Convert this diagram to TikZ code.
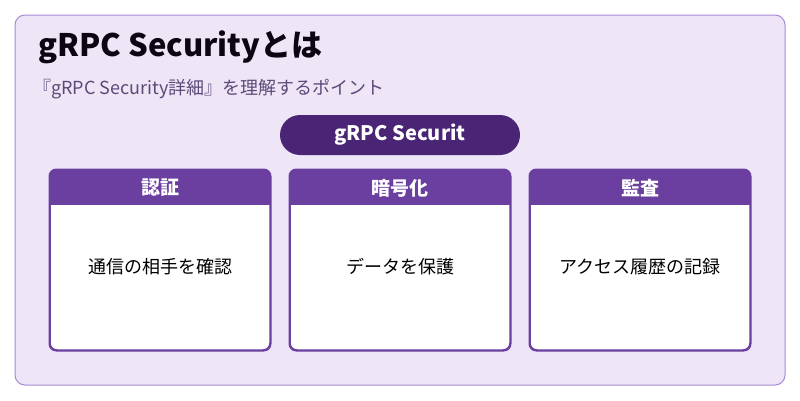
\documentclass[tikz,border=0pt]{standalone}
\usepackage{fontspec}
\setmainfont{Noto Sans CJK JP}
\usetikzlibrary{positioning}
\definecolor{bgpurple}{HTML}{EEE6F6}
\definecolor{edgepurple}{HTML}{A58AD6}
\definecolor{darkpurple}{HTML}{4B2575}
\definecolor{midpurple}{HTML}{6B3FA0}
\definecolor{subgray}{HTML}{5A4A78}
\tikzset{%
    framesty/.style={
        rounded corners=10pt,
        draw=edgepurple,
        fill=bgpurple,
        line width=1pt,
    },
    pillsty/.style={
        rounded corners=20pt,
        fill=darkpurple,
        text=white,
        font=\bfseries\fontsize{20}{24}\selectfont,
        minimum width=240pt,
        minimum height=40pt,
    },
    cardsty/.style={
        rounded corners=7pt,
        draw=midpurple,
        fill=white,
        line width=1.5pt,
        minimum width=220pt,
        minimum height=180pt,
    },
    headsty/.style={
        font=\bfseries\fontsize{19}{23}\selectfont,
        text=white,
    },
    bodysty/.style={
        font=\fontsize{18}{21}\selectfont,
        text=black,
    },
}
\begin{document}
\begin{tikzpicture}[x=1pt,y=-1pt]

\useasboundingbox (0,0) rectangle (800,400);
\fill[white] (0,0) rectangle (800,400);

% frame
\draw[framesty] (15,15) rectangle (785,385);

% title and subtitle
\node (title) [anchor=west,inner sep=0pt,font=\bfseries\fontsize{31}{36}\selectfont,text=black!85!darkpurple] at (38,47) {gRPC Securityとは};
\node (sub) [anchor=west,inner sep=0pt,font=\fontsize{18}{21}\selectfont,text=subgray] at (33,89) {『gRPC Security詳細』を理解するポイント};

% pill
\node (pill) [pillsty] at (400,135) {gRPC Securit};

% cards
\foreach \cx/\head/\body [count=\i] in {160/認証/通信の相手を確認, 400/暗号化/データを保護, 640/監査/アクセス履歴の記録}{
    \node (card\i) [cardsty] at (\cx,260) {};
    \begin{scope}
        \clip[rounded corners=7pt] (card\i.north west) rectangle (card\i.south east);
        \fill[midpurple] (card\i.north west) rectangle ([yshift=-36pt]card\i.north east);
    \end{scope}
    \draw[midpurple,line width=1.5pt,rounded corners=7pt] (card\i.north west) rectangle (card\i.south east);
    \node (head\i) [headsty] at (\cx,188) {\head};
    \node (body\i) [bodysty] at (\cx,267) {\body};
}

\end{tikzpicture}
\end{document}
